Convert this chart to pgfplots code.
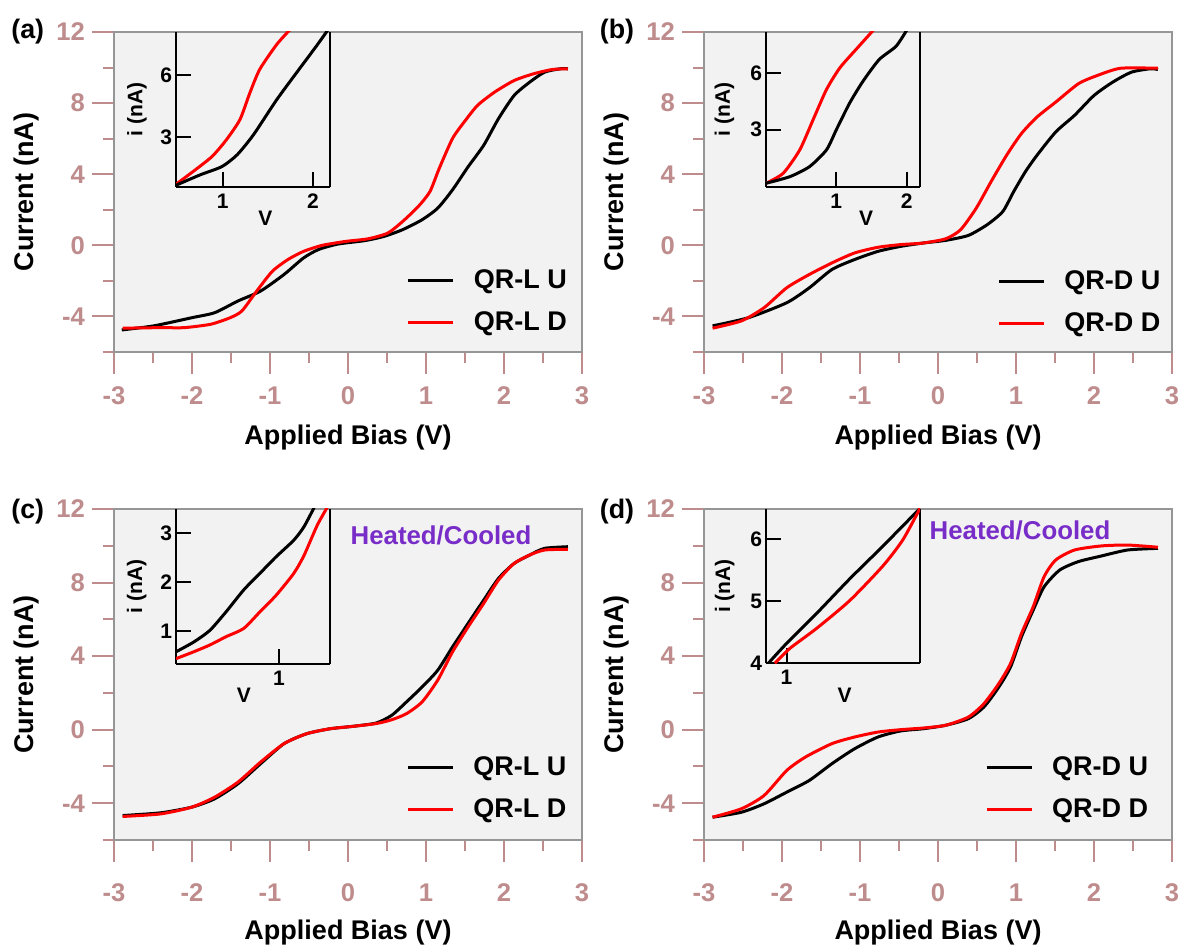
\documentclass[border=0pt]{standalone}
\usepackage{fontspec}
\setmainfont{Liberation Sans}
\usepackage{pgfplots}
\pgfplotsset{compat=1.18}

\definecolor{tickc}{RGB}{190,140,140}
\definecolor{framec}{RGB}{150,150,150}
\definecolor{bgc}{RGB}{242,242,242}
\definecolor{purp}{RGB}{120,45,200}

\pgfplotsset{
  mainax/.style={
    scale only axis, width=234pt, anchor=south west,
    xmin=-3, xmax=3, ymin=-6, ymax=12,
    xtick={-3,-2,-1,0,1,2,3}, xticklabels={-3,-2,-1,0,1,2,3},
    ytick={-4,0,4,8,12}, yticklabels={-4,0,4,8,12},
    minor xtick={-2.5,-1.5,-0.5,0.5,1.5,2.5},
    minor ytick={-6,-2,2,6,10},
    tick align=outside, xtick pos=left, ytick pos=left,
    major tick length=11pt, minor tick length=5.5pt,
    major tick style={draw=tickc, line width=1pt},
    minor tick style={draw=tickc, line width=1pt},
    axis line style={draw=framec, line width=1pt},
    axis background/.style={fill=bgc},
    tick label style={font=\fontsize{12.8}{14}\selectfont\bfseries, text=tickc},
    xticklabel style={yshift=-3pt},
    label style={font=\fontsize{13.5}{16}\selectfont\bfseries},
    xlabel={Applied Bias (V)}, ylabel={Current (nA)},
    ylabel style={at={(axis description cs:-0.186,0.5)}, anchor=center},
    xlabel style={at={(axis description cs:0.5,-0.266)}, anchor=center},
    legend cell align=left,
    legend image code/.code={\draw[#1] (0pt,0pt) -- (22.5pt,0pt);},
    legend style={draw=none, fill=none, inner sep=0pt, anchor=west,
      row sep=6pt, column sep=7.5pt,
      font=\fontsize{13.5}{16}\selectfont\bfseries},
    every axis plot/.append style={line width=1.5pt, smooth, tension=0.4},
  },
  insetax/.style={
    scale only axis, width=77pt, height=77.35pt, anchor=south west,
    axis x line*=bottom, axis y line*=box, ytick pos=left,
    axis line style={-, draw=black, line width=1pt},
    tick align=inside, major tick length=7.5pt,
    major tick style={draw=black, line width=1pt},
    /pgf/number format/assume math mode=true,
    tick label style={font=\fontsize{10.5}{12}\selectfont\bfseries, text=black},
    yticklabel style={xshift=1.5pt},
    label style={font=\fontsize{10.5}{12}\selectfont\bfseries},
    xlabel={V}, ylabel={i (nA)},
    every axis plot/.append style={line width=1.5pt, smooth, tension=0.4},
  },
}

\begin{document}
\begin{tikzpicture}
\useasboundingbox (0,0) rectangle (590.5pt,473.5pt);

% ---------------- (a)
\begin{axis}[mainax, at={(57pt,297.5pt)}, height=160pt,
  legend style={at={(0.625,0.157)}}]
\addplot[black] coordinates {(-2.9,-4.76) (-2.49,-4.53) (-2.0,-4.07) (-1.71,-3.79) (-1.41,-3.13) (-1.12,-2.57) (-0.82,-1.64) (-0.57,-0.71) (-0.38,-0.24) (-0.13,0.07) (0.21,0.26) (0.46,0.50) (0.70,0.88) (0.95,1.44) (1.15,2.09) (1.34,3.12) (1.54,4.42) (1.74,5.63) (1.93,7.13) (2.13,8.43) (2.33,9.18) (2.52,9.74) (2.72,9.93) (2.82,9.93)};
\addlegendentry{QR-L U}
\addplot[red] coordinates {(-2.89,-4.66) (-2.40,-4.63) (-2.10,-4.63) (-1.76,-4.44) (-1.51,-4.07) (-1.36,-3.69) (-1.17,-2.57) (-0.97,-1.46) (-0.77,-0.80) (-0.57,-0.34) (-0.33,0) (-0.03,0.22) (0.26,0.37) (0.51,0.69) (0.70,1.34) (0.90,2.18) (1.05,3.02) (1.17,4.33) (1.34,6.01) (1.49,6.94) (1.66,7.87) (1.88,8.62) (2.13,9.27) (2.38,9.65) (2.62,9.89) (2.82,9.93)};
\addlegendentry{QR-L D}
\end{axis}
\begin{axis}[insetax, at={(88pt,380.15pt)}, xmin=0.48, xmax=2.19, ymin=0.58, ymax=8.12,
  xtick={1,2}, ytick={3,6},
  ylabel style={at={(axis description cs:-0.253,0.5)}, anchor=center},
  xlabel style={at={(axis description cs:0.58,-0.204)}, anchor=center}]
\addplot[red] coordinates {(0.48,0.70) (0.67,1.32) (0.88,2.05) (1.04,2.87) (1.19,3.85) (1.30,5.15) (1.41,6.3) (1.60,7.52) (1.76,8.3)};
\addplot[black] coordinates {(0.48,0.65) (0.75,1.16) (0.99,1.56) (1.16,2.14) (1.34,3.11) (1.6,4.83) (1.86,6.38) (2.04,7.44) (2.18,8.3)};
\end{axis}

% ---------------- (b)
\begin{axis}[mainax, at={(352pt,297.5pt)}, height=160pt,
  legend style={at={(0.626,0.155)}}]
\addplot[black] coordinates {(-2.89,-4.53) (-2.43,-4.07) (-1.94,-3.23) (-1.65,-2.39) (-1.36,-1.36) (-1.07,-0.80) (-0.77,-0.34) (-0.48,-0.06) (-0.19,0.13) (0.10,0.28) (0.39,0.56) (0.63,1.16) (0.83,1.90) (0.97,3.02) (1.12,4.14) (1.27,5.07) (1.51,6.38) (1.75,7.31) (2.00,8.43) (2.24,9.18) (2.48,9.74) (2.72,9.93) (2.82,9.89)};
\addlegendentry{QR-D U}
\addplot[red] coordinates {(-2.89,-4.66) (-2.52,-4.25) (-2.23,-3.51) (-1.94,-2.39) (-1.65,-1.64) (-1.36,-0.99) (-1.07,-0.43) (-0.77,-0.11) (-0.48,0.04) (-0.19,0.13) (0.10,0.37) (0.29,0.88) (0.49,2.09) (0.68,3.58) (0.88,5.07) (1.07,6.29) (1.27,7.22) (1.51,8.06) (1.80,9.09) (2.04,9.55) (2.34,9.96) (2.82,9.96)};
\addlegendentry{QR-D D}
\end{axis}
\begin{axis}[insetax, at={(383pt,380.15pt)}, xmin=0, xmax=2.19, ymin=0, ymax=8.15,
  xtick={1,2}, ytick={3,6},
  ylabel style={at={(axis description cs:-0.27,0.5)}, anchor=center},
  xlabel style={at={(axis description cs:0.65,-0.204)}, anchor=center}]
\addplot[red] coordinates {(0,0.18) (0.245,0.71) (0.48,1.94) (0.67,3.53) (0.86,5.12) (1.05,6.26) (1.28,7.23) (1.54,8.3)};
\addplot[black] coordinates {(0,0.18) (0.34,0.53) (0.62,1.06) (0.86,1.94) (1.0,3.0) (1.19,4.41) (1.38,5.56) (1.61,6.7) (1.85,7.4) (2.01,8.3)};
\end{axis}

% ---------------- (c)
\begin{axis}[mainax, at={(57pt,53.5pt)}, height=165.5pt,
  xticklabel style={yshift=-4.3pt},
  xlabel style={at={(axis description cs:0.5,-0.281)}, anchor=center},
  legend style={at={(0.624,0.155)}}]
\addplot[black] coordinates {(-2.89,-4.67) (-2.40,-4.52) (-2.0,-4.21) (-1.71,-3.76) (-1.41,-2.94) (-1.12,-1.85) (-0.82,-0.76) (-0.53,-0.22) (-0.23,0.05) (0.06,0.18) (0.36,0.36) (0.56,0.78) (0.75,1.51) (0.95,2.32) (1.15,3.23) (1.34,4.50) (1.54,5.78) (1.74,7.05) (1.93,8.23) (2.13,9.04) (2.33,9.50) (2.52,9.86) (2.82,9.95)};
\addlegendentry{QR-L U}
\addplot[red] coordinates {(-2.89,-4.72) (-2.40,-4.58) (-2.0,-4.21) (-1.71,-3.67) (-1.41,-2.85) (-1.12,-1.76) (-0.82,-0.76) (-0.53,-0.22) (-0.23,0.05) (0.06,0.18) (0.36,0.33) (0.56,0.54) (0.75,0.87) (0.95,1.51) (1.15,2.69) (1.34,4.23) (1.54,5.59) (1.74,6.87) (1.93,8.14) (2.13,9.04) (2.33,9.50) (2.52,9.77) (2.82,9.81)};
\addlegendentry{QR-L D}
\end{axis}
\begin{axis}[insetax, at={(88pt,141.5pt)}, height=77.5pt, xmin=0.3, xmax=1.346, ymin=0.32, ymax=3.5,
  xtick={1}, ytick={1,2,3},
  ylabel style={at={(axis description cs:-0.256,0.5)}, anchor=center},
  xlabel style={at={(axis description cs:0.44,-0.2)}, anchor=center}]
\addplot[black] coordinates {(0.30,0.57) (0.42,0.77) (0.53,1.01) (0.64,1.39) (0.76,1.84) (0.87,2.18) (0.98,2.52) (1.10,2.86) (1.17,3.14) (1.25,3.6)};
\addplot[red] coordinates {(0.30,0.43) (0.42,0.57) (0.53,0.71) (0.64,0.88) (0.76,1.05) (0.87,1.39) (0.98,1.73) (1.10,2.18) (1.17,2.55) (1.26,3.17) (1.34,3.6)};
\end{axis}

% ---------------- (d)
\begin{axis}[mainax, at={(352pt,53.5pt)}, height=165.5pt,
  xticklabel style={yshift=-4.3pt},
  xlabel style={at={(axis description cs:0.5,-0.281)}, anchor=center},
  legend style={at={(0.600,0.155)}}]
\addplot[black] coordinates {(-2.89,-4.76) (-2.52,-4.49) (-2.23,-4.03) (-1.94,-3.40) (-1.65,-2.76) (-1.36,-1.85) (-1.07,-1.04) (-0.77,-0.40) (-0.48,-0.07) (-0.19,0.05) (0.10,0.24) (0.39,0.60) (0.59,1.24) (0.78,2.32) (0.93,3.41) (1.07,5.05) (1.22,6.50) (1.36,7.77) (1.56,8.68) (1.80,9.14) (2.09,9.44) (2.43,9.77) (2.82,9.86)};
\addlegendentry{QR-D U}
\addplot[red] coordinates {(-2.89,-4.76) (-2.52,-4.30) (-2.23,-3.58) (-1.94,-2.22) (-1.70,-1.49) (-1.36,-0.76) (-1.07,-0.40) (-0.77,-0.13) (-0.48,0) (-0.19,0.09) (0.10,0.24) (0.39,0.69) (0.59,1.42) (0.78,2.51) (0.93,3.60) (1.07,5.23) (1.22,6.68) (1.36,8.32) (1.51,9.23) (1.75,9.77) (2.09,9.99) (2.43,10.04) (2.82,9.92)};
\addlegendentry{QR-D D}
\end{axis}
\begin{axis}[insetax, at={(383pt,141.85pt)}, height=77.15pt, xmin=0.9, xmax=1.65, ymin=4, ymax=6.49,
  xtick={1}, ytick={4,5,6},
  ylabel style={at={(axis description cs:-0.268,0.5)}, anchor=center},
  xlabel style={at={(axis description cs:0.51,-0.21)}, anchor=center}]
\addplot[black] coordinates {(0.911,4.0) (1.0,4.32) (1.145,4.80) (1.307,5.36) (1.469,5.89) (1.65,6.5)};
\addplot[red] coordinates {(0.943,4.0) (1.016,4.24) (1.145,4.56) (1.307,5.01) (1.469,5.57) (1.566,5.99) (1.65,6.5)};
\end{axis}

% panel letters and notes
\node[font=\fontsize{13.4}{16}\selectfont\bfseries] at (13.9pt,457.5pt) {(a)};
\node[font=\fontsize{13.4}{16}\selectfont\bfseries] at (308.5pt,457.5pt) {(b)};
\node[font=\fontsize{13.4}{16}\selectfont\bfseries] at (13.9pt,217.5pt) {(c)};
\node[font=\fontsize{13.4}{16}\selectfont\bfseries] at (308.5pt,217.5pt) {(d)};
\node[font=\fontsize{12.9}{15}\selectfont\bfseries, text=purp] at (220.5pt,206pt) {Heated/Cooled};
\node[font=\fontsize{12.9}{15}\selectfont\bfseries, text=purp] at (510pt,208.5pt) {Heated/Cooled};
\end{tikzpicture}
\end{document}
